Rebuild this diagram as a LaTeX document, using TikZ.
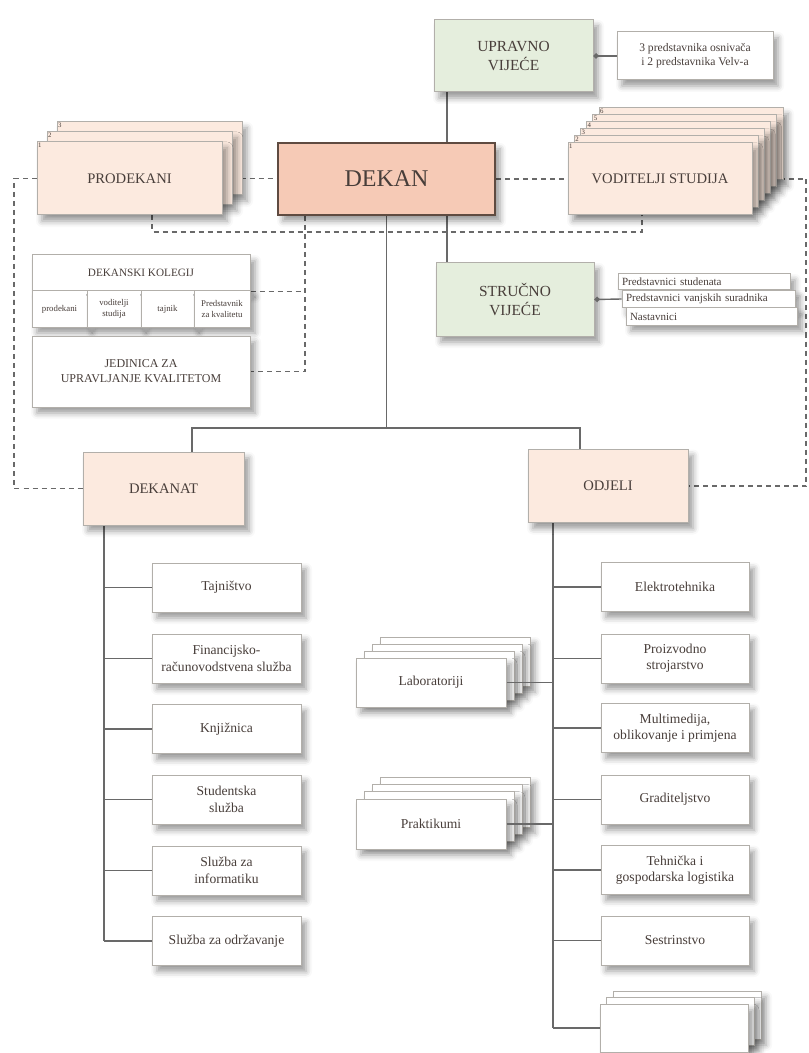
\documentclass[tikz,border=0pt]{standalone}
\usepackage{fontspec}
\setmainfont{Liberation Serif}
\usetikzlibrary{calc, arrows.meta, shadows.blur}
\definecolor{councilgreen}{RGB}{229,238,221}
\definecolor{deanpeach}{RGB}{246,202,182}
\definecolor{lightpeach}{RGB}{252,234,223}
\definecolor{framegray}{RGB}{178,175,170}
\definecolor{deanframe}{RGB}{95,75,65}
\definecolor{linegray}{RGB}{105,105,105}
\definecolor{labeltext}{RGB}{72,62,58}
\pgfdeclarelayer{background}
\pgfsetlayers{background,main}

\tikzset{
  orgbox/.style={draw=framegray, fill=white, line width=0.5pt, align=center, inner sep=1pt,
    text=labeltext, font=\fontsize{6.8}{8.2}\selectfont,
    blur shadow={shadow xshift=2.5pt, shadow yshift=-3pt, shadow blur radius=3pt, shadow opacity=40}},
  greenbox/.style={orgbox, fill=councilgreen, font=\fontsize{7.7}{9.6}\selectfont},
  peachbox/.style={orgbox, fill=lightpeach, font=\fontsize{7.3}{9}\selectfont},
  memberbox/.style={orgbox, font=\fontsize{5.5}{6.5}\selectfont, align=left, inner sep=2pt},
  cellbox/.style={orgbox, font=\fontsize{4.4}{5.2}\selectfont, minimum height=18pt},
  unitbox/.style={orgbox, minimum width=74.5pt, minimum height=24.5pt},
  stacknum/.style={anchor=north west, inner sep=0.6pt, text=labeltext, font=\fontsize{3.4}{4}\selectfont},
  link/.style={draw=linegray, line width=0.7pt},
  dashlink/.style={draw=linegray, line width=0.7pt, dash pattern=on 2.5pt off 2pt}
}

\begin{document}
\begin{tikzpicture}[x=0.5pt, y=-0.5pt]
\useasboundingbox (0,0) rectangle (808,1053);

% governing bodies
\node[greenbox, minimum width=79.5pt, minimum height=36pt] (upravno) at (513.5,56) {UPRAVNO\\VIJEĆE};
\node[orgbox, font=\fontsize{5.8}{7}\selectfont, minimum width=78pt, minimum height=24pt] (osnivaci) at (695,56) {3 predstavnika osnivača\\i 2 predstavnika Velv-a};

% prodekani (stack of 3)
\foreach \i in {2,1} {
  \pgfmathtruncatemacro\nr{\i+1}
  \node[peachbox, minimum width=92.5pt, minimum height=36.5pt] (prodekani\i) at (129.5+10*\i,178.5-10*\i) {};
  \node[stacknum] at (prodekani\i.north west) {\nr};
}
\node[peachbox, minimum width=92.5pt, minimum height=36.5pt] (prodekani) at (129.5,178.5) {PRODEKANI};
\node[stacknum] at (prodekani.north west) {1};

\node[orgbox, fill=deanpeach, draw=deanframe, line width=0.9pt, font=\fontsize{12}{14}\selectfont,
  minimum width=108.5pt, minimum height=36pt] (dekan) at (386.5,179) {DEKAN};

% voditelji studija (stack of 6)
\foreach \i in {5,...,1} {
  \pgfmathtruncatemacro\nr{\i+1}
  \node[peachbox, minimum width=92pt, minimum height=36pt] (voditelji\i) at (660+6.2*\i,179-7*\i) {};
  \node[stacknum] at (voditelji\i.north west) {\nr};
}
\node[peachbox, minimum width=92pt, minimum height=36pt] (voditelji) at (660,179) {VODITELJI STUDIJA};
\node[stacknum] at (voditelji.north west) {1};

% dekanski kolegij
\node[orgbox, font=\fontsize{5.6}{6.5}\selectfont, minimum width=109pt, minimum height=18pt] (kolegij) at (141,273) {DEKANSKI KOLEGIJ};
\node[cellbox, minimum width=27.5pt] (kprodekani) at (59.5,309) {prodekani};
\node[cellbox, minimum width=27pt] (kvoditelji) at (114,309) {voditelji\\studija};
\node[cellbox, minimum width=26.5pt] (ktajnik) at (167.5,309) {tajnik};
\node[cellbox, minimum width=28pt] (kkvaliteta) at (222,309) {Predstavnik\\za kvalitetu};
\node[orgbox, font=\fontsize{6}{7.6}\selectfont, minimum width=109pt, minimum height=35.5pt] (jedinica) at (141,371.5) {JEDINICA ZA\\UPRAVLJANJE KVALITETOM};

% strucno vijece
\node[greenbox, minimum width=79pt, minimum height=36.5pt] (strucno) at (515,299.5) {STRUČNO\\VIJEĆE};
\node[memberbox, minimum width=86pt, text width=82pt, minimum height=8pt] (studenti) at (704,282) {Predstavnici studenata};
\node[memberbox, minimum width=86.5pt, text width=82.5pt, minimum height=8pt] (suradnici) at (708.5,299) {Predstavnici vanjskih suradnika};
\node[memberbox, minimum width=85.5pt, text width=81.5pt, minimum height=8.5pt] (nastavnici) at (711.5,316.5) {Nastavnici};

% dekanat i odjeli
\node[peachbox, minimum width=80.5pt, minimum height=36.5pt] (dekanat) at (163.5,488.5) {DEKANAT};
\node[peachbox, minimum width=80pt, minimum height=36.5pt] (odjeli) at (608,486) {ODJELI};

\foreach \name/\txt/\yy in {tajnistvo/Tajništvo/587.5, financije/{Financijsko-\\računovodstvena služba}/658.5,
    knjiznica/Knjižnica/729, studentska/{Studentska\\služba}/799.5,
    informatika/{Služba za\\informatiku}/870.5, odrzavanje/Služba za održavanje/941}
  \node[unitbox] (\name) at (226.5,\yy) {\txt};

\foreach \name/\txt/\yy in {elektro/Elektrotehnika/587, strojarstvo/{Proizvodno\\strojarstvo}/658.5,
    multimedija/{Multimedija,\\oblikovanje i primjena}/728, graditeljstvo/Graditeljstvo/799.5,
    logistika/{Tehnička i\\gospodarska logistika}/870, sestrinstvo/Sestrinstvo/940.5}
  \node[unitbox, minimum width=74pt] (\name) at (675,\yy) {\txt};

% ostali odjeli (stack of 3)
\foreach \i in {2,1}
  \node[unitbox, minimum width=74pt, minimum height=24pt] (ostali\i) at (674+6.5*\i,1028-6.5*\i) {};
\node[unitbox, minimum width=74pt, minimum height=24pt] (ostali) at (674,1028) {};

% laboratoriji i praktikumi (stacks of 4)
\foreach \i in {3,2,1} {
  \node[unitbox, minimum width=75pt] (laboratoriji\i) at (431+8*\i,682.5-7*\i) {};
  \node[unitbox, minimum width=75pt, minimum height=25pt] (praktikumi\i) at (431+8*\i,824-7.3*\i) {};
}
\node[unitbox, minimum width=75pt] (laboratoriji) at (431,682.5) {Laboratoriji};
\node[unitbox, minimum width=75pt, minimum height=25pt] (praktikumi) at (431,824) {Praktikumi};

% connectors
\coordinate (axis) at (447,0);
\coordinate (dropL) at (192,428);
\coordinate (dropR) at (580,428);
\coordinate (spineL) at (104,0);
\coordinate (spineR) at (553,0);
\coordinate (farL) at (14,300);
\coordinate (farR) at (806,300);
\coordinate (loopL) at (152,232);
\coordinate (loopR) at (642,232);
\coordinate (qaline) at (305,0);

\begin{pgfonlayer}{background}
  \draw[link] (upravno.south -| axis) -- (dekan.north -| axis);
  \draw[link] (dekan.south -| axis) -- (strucno.north -| axis);
  \draw[link] (dekan.south) -- (dekan.south |- dropL);
  \draw[link] (dekanat.north -| dropL) -- (dropL) -- (dropR) -- (odjeli.north -| dropR);
  \draw[link] (dekanat.south -| spineL) -- (odrzavanje.west -| spineL);
  \draw[link] (odjeli.south -| spineR) -- (ostali.west -| spineR);
  \foreach \name in {tajnistvo, financije, knjiznica, studentska, informatika, odrzavanje}
    \draw[link] (\name.west) -- (\name.west -| spineL);
  \foreach \name in {elektro, strojarstvo, multimedija, graditeljstvo, logistika, sestrinstvo, ostali}
    \draw[link] (\name.west) -- (\name.west -| spineR);

  \draw[dashlink] (prodekani.east) -- (prodekani.east -| dekan.west);
  \draw[dashlink] (dekan.east) -- (voditelji.west);
  \draw[dashlink] (prodekani.west) -| (farL) |- (dekanat.west);
  \draw[dashlink] (voditelji.east) -| (farR) |- (odjeli.east);
  \draw[dashlink] (prodekani.south -| loopL) -- (loopL) -- (loopR) -- (voditelji.south -| loopR);
  \draw[dashlink] (dekan.south -| qaline) |- (jedinica.east);
  \draw[dashlink] (kolegij.south east) -- (kolegij.south east -| qaline);
\end{pgfonlayer}

\draw[link, -{Circle[length=2.6pt]}] (osnivaci.west) -- (upravno.east);
\draw[link, -{Circle[length=2.6pt]}] (suradnici.west) -- (strucno.east);
\draw[link] (laboratoriji.east) -- (laboratoriji.east -| spineR);
\draw[link] (praktikumi.east) -- (praktikumi.east -| spineR);
\end{tikzpicture}
\end{document}
